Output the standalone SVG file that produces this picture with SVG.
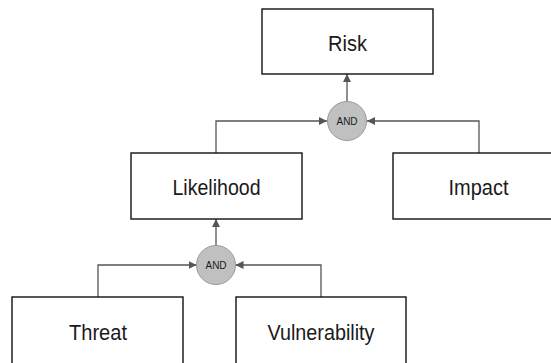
<svg xmlns="http://www.w3.org/2000/svg" width="551" height="363" viewBox="0 0 551 363">
  <style>
    .box { fill: #ffffff; stroke: #111111; stroke-width: 1.4; }
    .gate { fill: #c0c0c0; stroke: #9a9a9a; stroke-width: 1; }
    .label { font-family: "Liberation Sans", Arial, sans-serif; font-size: 22px; fill: #1a1a1a; text-anchor: middle; }
    .gate-label { font-family: "Liberation Sans", Arial, sans-serif; font-size: 11px; fill: #1a1a1a; text-anchor: middle; }
    .wire { fill: none; stroke: #555555; stroke-width: 1.3; }
  </style>
  <defs>
    <marker id="arrow" viewBox="0 0 10 10" refX="10" refY="5" markerWidth="8" markerHeight="8" markerUnits="userSpaceOnUse" orient="auto">
      <path d="M0,0 L10,5 L0,10 Z" fill="#555555"/>
    </marker>
  </defs>

  <rect width="551" height="363" fill="#ffffff"/>

  <!-- connectors -->
  <g id="connectors">
    <path class="wire" d="M216,153 V121 H327" marker-end="url(#arrow)"/>
    <path class="wire" d="M479,153 V121 H367" marker-end="url(#arrow)"/>
    <path class="wire" d="M347,101.5 V74" marker-end="url(#arrow)"/>
    <path class="wire" d="M98,297 V265 H196.5" marker-end="url(#arrow)"/>
    <path class="wire" d="M321,297 V265 H235.5" marker-end="url(#arrow)"/>
    <path class="wire" d="M216,245.5 V219" marker-end="url(#arrow)"/>
  </g>

  <g id="risk">
    <rect class="box" x="262" y="9" width="171" height="65"/>
    <text class="label" x="347.5" y="51" textLength="39" lengthAdjust="spacingAndGlyphs">Risk</text>
  </g>

  <g id="and-risk">
    <circle class="gate" cx="347" cy="121" r="19.5"/>
    <text class="gate-label" x="347" y="125" textLength="21" lengthAdjust="spacingAndGlyphs">AND</text>
  </g>

  <g id="likelihood">
    <rect class="box" x="131" y="153" width="171" height="66"/>
    <text class="label" x="216.5" y="194.5" textLength="88" lengthAdjust="spacingAndGlyphs">Likelihood</text>
  </g>

  <g id="impact">
    <rect class="box" x="393" y="153" width="171" height="66"/>
    <text class="label" x="478.5" y="195" textLength="60" lengthAdjust="spacingAndGlyphs">Impact</text>
  </g>

  <g id="and-likelihood">
    <circle class="gate" cx="216" cy="265" r="19.5"/>
    <text class="gate-label" x="216" y="269" textLength="21" lengthAdjust="spacingAndGlyphs">AND</text>
  </g>

  <g id="threat">
    <rect class="box" x="12" y="297" width="171" height="80"/>
    <text class="label" x="98" y="340" textLength="58" lengthAdjust="spacingAndGlyphs">Threat</text>
  </g>

  <g id="vulnerability">
    <rect class="box" x="236" y="297" width="170" height="80"/>
    <text class="label" x="321" y="340" textLength="107" lengthAdjust="spacingAndGlyphs">Vulnerability</text>
  </g>
</svg>
